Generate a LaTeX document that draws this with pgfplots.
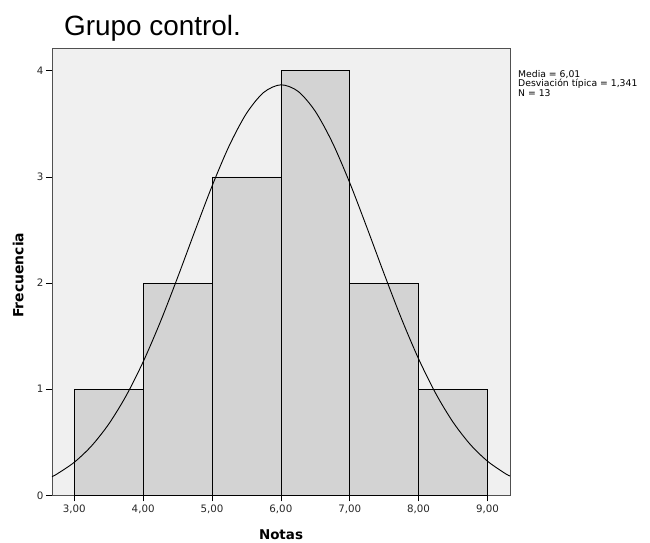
\documentclass[border=0pt]{standalone}
\usepackage{pgfplots}
\pgfplotsset{compat=1.18}
\usepackage{fontspec}
\setmainfont{DejaVu Sans}
\newfontfamily\arialf{Liberation Sans}
\newfontfamily\dejavu{DejaVu Sans}
\definecolor{bgc}{HTML}{F0F0F0}
\definecolor{barc}{HTML}{D3D3D3}
\definecolor{axc}{HTML}{505050}
\begin{document}
\begin{tikzpicture}
\path[use as bounding box] (-52bp,-47.7bp) rectangle (598bp,495.3bp);
\begin{axis}[
  at={(0,0)}, anchor=south west,
  scale only axis, width=458bp, height=447.3bp,
  xmin=2.676, xmax=9.328, ymin=0, ymax=4.214,
  axis background/.style={fill=bgc},
  axis line style={axc, line width=0.8bp},
  tick style={black, line width=0.7bp},
  tick align=outside, major tick length=6bp,
  xtick pos=left, ytick pos=left,
  xtick={3,4,5,6,7,8,9},
  xticklabels={{3,00},{4,00},{5,00},{6,00},{7,00},{8,00},{9,00}},
  ytick={0,1,2,3,4},
  yticklabels={0,1,2,3,4},
  ticklabel style={font=\dejavu\fontsize{10.3}{11}\selectfont, text=black!85},
  xticklabel style={yshift=-0.5bp},
  yticklabel style={xshift=1bp},
  clip=false,
]
\addplot[ybar interval, fill=barc, draw=black, line width=0.7bp] coordinates {
  (3,1) (4,2) (5,3) (6,4) (7,2) (8,1) (9,1)
};
\addplot[black, line width=0.9bp, smooth, no marks] coordinates {
(2.676,0.1759) (2.75,0.2013) (3.0,0.3114) (3.25,0.4651) (3.5,0.6709) (3.75,0.9346)
(4.0,1.2576) (4.25,1.6343) (4.5,2.0515) (4.75,2.4870) (5.0,2.9121) (5.25,3.2933)
(5.5,3.5972) (5.75,3.7950) (6.0,3.8670) (6.25,3.8056) (6.5,3.6173) (6.75,3.3209)
(7.0,2.9446) (7.25,2.5218) (7.5,2.0860) (7.75,1.6664) (8.0,1.2859) (8.25,0.9583)
(8.5,0.6898) (8.75,0.4796) (9.0,0.3220) (9.25,0.2088) (9.328,0.1811)
};
\node[anchor=base west, inner sep=0pt, font=\arialf\fontsize{28}{30}\selectfont] at (rel axis cs:0.0262,1.0275) {Grupo control.};
\node[anchor=base west, inner sep=0pt, font=\dejavu\fontsize{9.3}{9}\selectfont] at (rel axis cs:1.0175,0.9341) {Media = 6,01};
\node[anchor=base west, inner sep=0pt, font=\dejavu\fontsize{9.3}{9}\selectfont] at (rel axis cs:1.0175,0.9128) {Desviación típica = 1,341};
\node[anchor=base west, inner sep=0pt, font=\dejavu\fontsize{9.3}{9}\selectfont] at (rel axis cs:1.0175,0.8916) {N = 13};
\node[rotate=90, inner sep=0pt, font=\dejavu\bfseries\fontsize{14}{14}\selectfont] at (rel axis cs:-0.0736,0.492) {Frecuencia};
\node[anchor=base, inner sep=0pt, font=\dejavu\bfseries\fontsize{13.5}{14}\selectfont] at (rel axis cs:0.5,-0.0984) {Notas};
\end{axis}
\end{tikzpicture}
\end{document}
